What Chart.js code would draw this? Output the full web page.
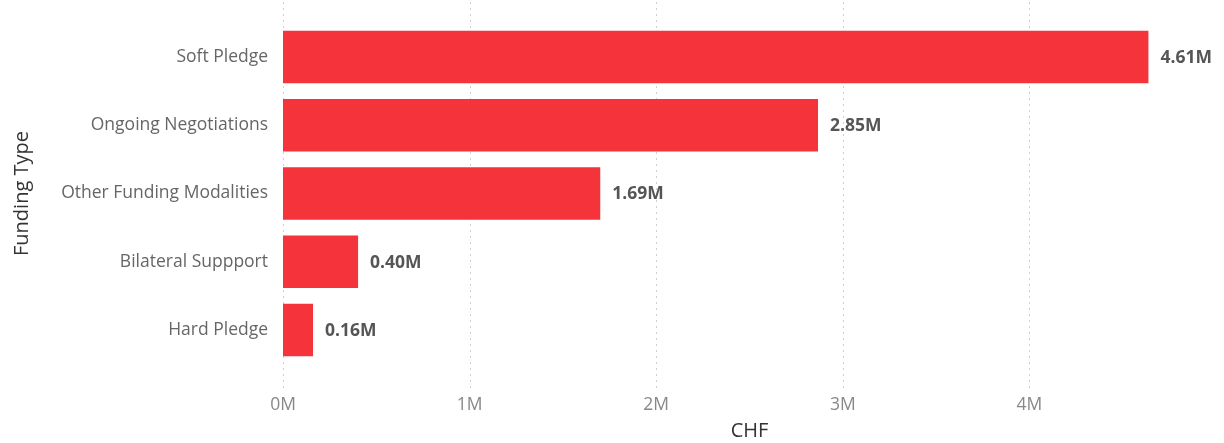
<!DOCTYPE html>
<html>
<head>
<meta charset="utf-8">
<script src="https://cdn.jsdelivr.net/npm/chart.js@4.4.1/dist/chart.umd.min.js"></script>
<style>
    html, body { margin: 0; padding: 0; background: #fff; }
    #wrap { width: 1224px; height: 443px; }
</style>
</head>
<body>
<div id="wrap"><canvas id="fundingChart"></canvas></div>
<script>
// Chart data
const categories = ["Soft Pledge", "Ongoing Negotiations", "Other Funding Modalities", "Bilateral Suppport", "Hard Pledge"];
const amounts = [4610000, 2850000, 1690000, 400000, 160000];
const tickLabels = ["0M", "1M", "2M", "3M", "4M"];

const FONT = "'Open Sans', 'Noto Sans', sans-serif";

// Dotted grid lines that run past the plot area, like the original
const dottedGrid = {
    id: "dottedGrid",
    beforeDatasetsDraw(chart) {
        const ctx = chart.ctx;
        const x = chart.scales.x;
        ctx.save();
        ctx.strokeStyle = "#d0d0d0";
        ctx.lineWidth = 1;
        ctx.setLineDash([2, 4]);
        x.ticks.forEach(t => {
            const px = Math.round(x.getPixelForValue(t.value)) + 0.5;
            ctx.beginPath();
            ctx.moveTo(px, 2);
            ctx.lineTo(px, 390);
            ctx.stroke();
        });
        ctx.restore();
    }
};

// Value labels at the end of each bar
const valueLabels = {
    id: "valueLabels",
    afterDatasetsDraw(chart) {
        const ctx = chart.ctx;
        const meta = chart.getDatasetMeta(0);
        ctx.save();
        ctx.font = "bold 17.5px " + FONT;
        ctx.fillStyle = "#555555";
        ctx.textAlign = "left";
        ctx.textBaseline = "middle";
        meta.data.forEach((bar, i) => {
            const v = amounts[i] / 1000000;
            ctx.fillText(v.toFixed(2) + "M", bar.x + 12, bar.y + 1);
        });
        ctx.restore();
    }
};

document.addEventListener("DOMContentLoaded", () => {
    const ctx = document.getElementById("fundingChart").getContext("2d");
    new Chart(ctx, {
        type: "bar",
        data: {
            labels: categories,
            datasets: [
                {
                    label: "CHF",
                    data: amounts,
                    backgroundColor: "#f5333a",
                    borderWidth: 0,
                    barPercentage: 0.77,
                    categoryPercentage: 1,
                },
            ],
        },
        options: {
            indexAxis: "y",
            responsive: true,
            maintainAspectRatio: false,
            animation: false,
            layout: { padding: { top: 23, right: 8, left: 0, bottom: 0 } },
            plugins: {
                legend: { display: false },
                tooltip: { enabled: false },
            },
            scales: {
                x: {
                    min: 0,
                    max: 4970000,
                    border: { display: false },
                    grid: { display: false },
                    ticks: {
                        stepSize: 1000000,
                        includeBounds: false,
                        padding: 23,
                        color: "#888888",
                        font: { family: FONT, size: 17.5 },
                        callback: (v, i) => tickLabels[i],
                    },
                    title: {
                        display: true,
                        text: "CHF",
                        color: "#333333",
                        font: { family: FONT, size: 20 },
                        padding: { top: 0, bottom: 0 },
                    },
                    afterFit: s => { s.height = 79; },
                },
                y: {
                    border: { display: false },
                    grid: { display: false },
                    ticks: {
                        padding: 7,
                        color: "#666666",
                        font: { family: FONT, size: 17.5 },
                    },
                    title: {
                        display: true,
                        text: "Funding Type",
                        color: "#333333",
                        font: { family: FONT, size: 20 },
                        padding: { top: 10, bottom: 0 },
                    },
                    afterFit: s => { s.width = 283; },
                },
            },
        },
        plugins: [dottedGrid, valueLabels],
    });
});
</script>
</body>
</html>
